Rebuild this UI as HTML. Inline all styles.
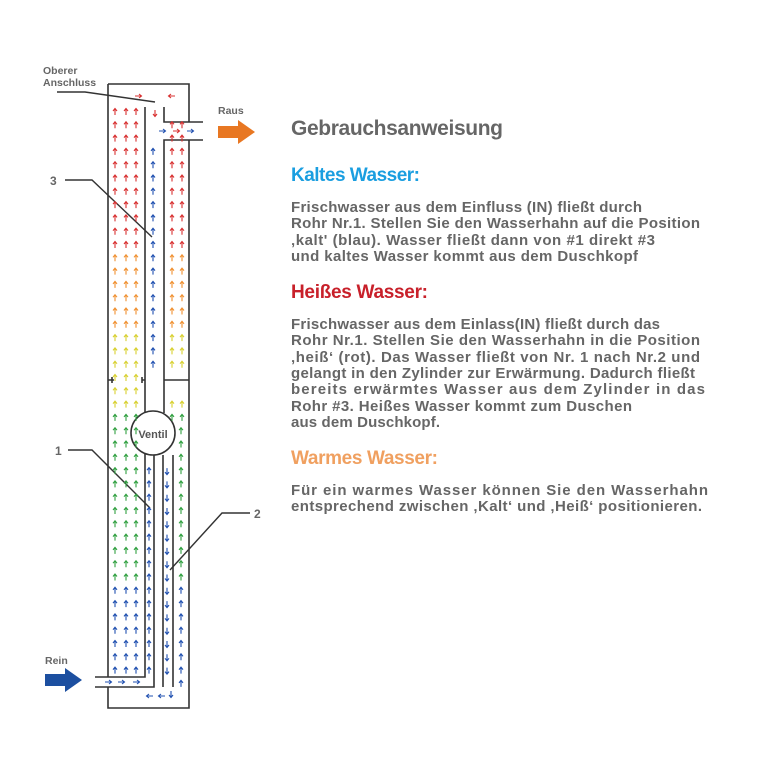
<!DOCTYPE html>
<html><head><meta charset="utf-8"><style>
html,body{margin:0;padding:0;background:#fff;}
svg{display:block}
text{font-family:"Liberation Sans",sans-serif;font-weight:bold}
</style></head><body>
<svg id="s" width="768" height="768" viewBox="0 0 768 768" xmlns="http://www.w3.org/2000/svg">
<g fill="none" stroke="#333" stroke-width="1.6">
<path d="M108,84 H189 V122 M189,140 V708 H108 V687 M108,677 V84"/>
<path d="M164,107 V122 H203 M203,140 H164 V380"/>
<path d="M145,107 V413"/>
<path d="M164,380 V413"/>
<path d="M164,380 H189"/>
<path d="M108,380 H114 M112,377 V383 M142,380 H145 M142,377 V383"/>
<circle cx="153" cy="433" r="22" fill="#fff"/>
<path d="M145,453 V677 H95 M95,687 H154 V455"/>
<path d="M163,455 V687 M173,455 V687"/>
<g stroke-width="1.4">
<path d="M57,92 H85 L155,102"/>
<path d="M65,180 H92 L152,237"/>
<path d="M68,450 H92 L150,508"/>
<path d="M250,513 H222 L170,570"/>
</g>
</g>
<g id="arr"></g>
<text x="153" y="438" font-size="11" fill="#555" text-anchor="middle">Ventil</text>
<g fill="#666" font-size="10.5">
<text x="43" y="74">Oberer</text>
<text x="43" y="86">Anschluss</text>
<text x="218" y="114">Raus</text>
<text x="45" y="664">Rein</text>
<text x="50" y="185" font-size="12">3</text>
<text x="55" y="455" font-size="12">1</text>
<text x="254" y="518" font-size="12">2</text>
</g>
<path d="M218,126 H238 V120 L255,132 L238,144 V138 H218Z" fill="#e87722"/>
<path d="M45,674 H65 V668 L82,680 L65,692 V686 H45Z" fill="#1c4fa0"/>
<g fill="#666">
<text x="291" y="135" font-size="21" textLength="212">Gebrauchsanweisung</text>
<g font-size="15">
<text x="291" y="212" textLength="351">Frischwasser aus dem Einfluss (IN) fließt durch</text>
<text x="291" y="228" textLength="409">Rohr Nr.1. Stellen Sie den Wasserhahn auf die Position</text>
<text x="291" y="245" textLength="364">‚kalt' (blau). Wasser fließt dann von #1 direkt #3</text>
<text x="291" y="261" textLength="347">und kaltes Wasser kommt aus dem Duschkopf</text>
<text x="291" y="329" textLength="369">Frischwasser aus dem Einlass(IN) fließt durch das</text>
<text x="291" y="345" textLength="409">Rohr Nr.1. Stellen Sie den Wasserhahn  in die Position</text>
<text x="291" y="362" textLength="409">‚heiß‘ (rot). Das Wasser fließt von Nr. 1 nach Nr.2 und</text>
<text x="291" y="378" textLength="404">gelangt in den Zylinder zur Erwärmung. Dadurch fließt</text>
<text x="291" y="394" textLength="414">bereits erwärmtes Wasser aus dem Zylinder  in das</text>
<text x="291" y="411" textLength="341">Rohr #3. Heißes Wasser kommt zum Duschen</text>
<text x="291" y="427" textLength="149">aus dem Duschkopf.</text>
<text x="291" y="495" textLength="417">Für ein warmes Wasser können Sie den Wasserhahn</text>
<text x="291" y="511" textLength="411">entsprechend zwischen ‚Kalt‘ und ‚Heiß‘ positionieren.</text>
</g>
</g>
<text x="291" y="181" font-size="19" fill="#1a9ee0" textLength="129">Kaltes Wasser:</text>
<text x="291" y="298" font-size="19" fill="#c8202a" textLength="137">Heißes Wasser:</text>
<text x="291" y="464" font-size="19" fill="#f0a060" textLength="147">Warmes Wasser:</text>
</svg>
<script>
var g=document.getElementById('arr'),h='';
function col(y){return y<250?'#d83030':y<330?'#f09030':y<410?'#d8d030':y<585?'#30a040':'#2050b0';}
function up(x,y,c){h+='<path d="M'+x+','+(y+3)+'V'+(y-3)+'M'+(x-2)+','+(y-1)+'L'+x+','+(y-3.5)+'L'+(x+2)+','+(y-1)+'" stroke="'+c+'" stroke-width="1.1" fill="none"/>';}
function dn(x,y,c){h+='<path d="M'+x+','+(y-3)+'V'+(y+3)+'M'+(x-2)+','+(y+1)+'L'+x+','+(y+3.5)+'L'+(x+2)+','+(y+1)+'" stroke="'+c+'" stroke-width="1.1" fill="none"/>';}
function hr(x,y,c,d){h+='<path d="M'+(x-3*d)+','+y+'H'+(x+3*d)+'M'+(x+1*d)+','+(y-2)+'L'+(x+3.5*d)+','+y+'L'+(x+1*d)+','+(y+2)+'" stroke="'+c+'" stroke-width="1.1" fill="none"/>';}
for(var y=112;y<=695;y+=13.3){
 [115,126,136].forEach(function(x){ if(!(y>672&&y<692)) up(x,y,col(y));});
 if(y>112&&y<372){[172,182].forEach(function(x){up(x,y,col(y));});}
 if(y>392&&y<420){[172,182].forEach(function(x){up(x,y,col(y));});}
 if(y>428&&y<700){up(181,y,col(y));}
 if(y>145&&y<375) up(153,y,'#2050b0');
 if(y>465&&y<672) up(149,y,'#2050b0');
 if(y>465&&y<680) dn(167,y,'#2050b0');
}
hr(138,96,'#d83030',1);hr(172,96,'#d83030',-1);dn(155,113,'#d83030');
hr(162,131,'#2050b0',1);hr(176,131,'#d83030',1);hr(190,131,'#2050b0',1);
hr(108,682,'#2050b0',1);hr(121,682,'#2050b0',1);hr(136,682,'#2050b0',1);
hr(150,696,'#2050b0',-1);hr(162,696,'#2050b0',-1);dn(171,694,'#2050b0');
g.innerHTML=h;
</script>
</body></html>
